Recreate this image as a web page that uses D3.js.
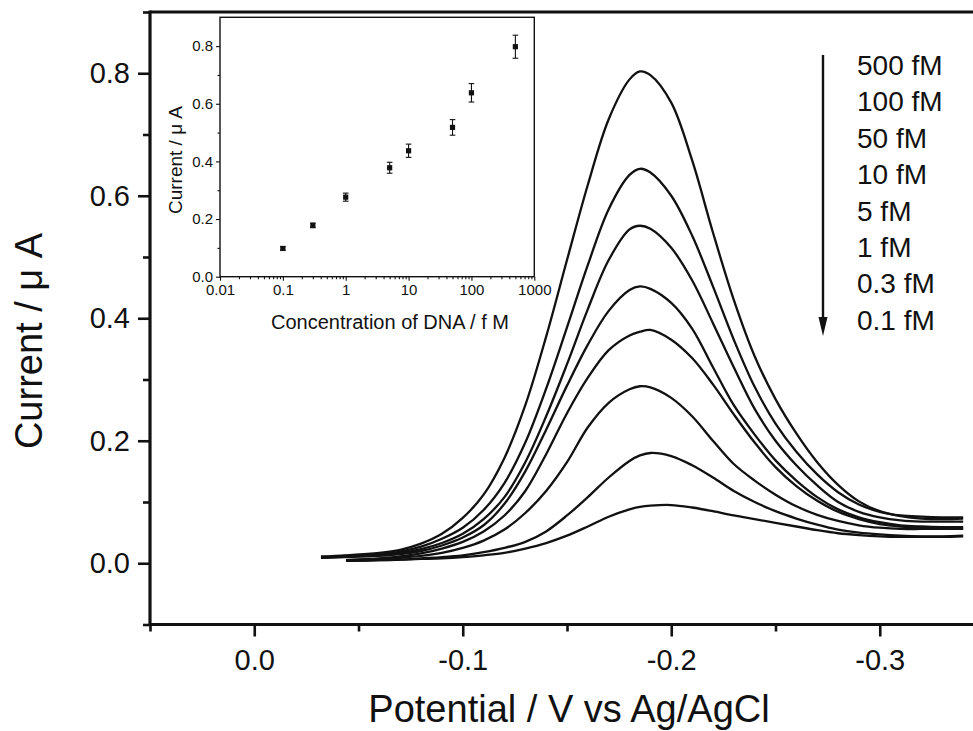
<!DOCTYPE html>
<html>
<head>
<meta charset="utf-8">
<script src="https://cdn.jsdelivr.net/npm/d3@7"></script>
<style>
  html, body { margin: 0; padding: 0; background: #fff; }
  svg { display: block; font-family: "Liberation Sans", Arial, Helvetica, sans-serif; }
</style>
</head>
<body>
<svg id="chart" width="973" height="731"></svg>
<script>
// ---------------- DATA ----------------
// Main chart: potential (V vs Ag/AgCl) grid and current (µA) for each concentration
const potential = [-0.032, -0.044, -0.06, -0.07, -0.08, -0.09, -0.10, -0.11, -0.12, -0.13, -0.14, -0.15, -0.16, -0.17, -0.18, -0.185, -0.19, -0.20, -0.21, -0.22, -0.23, -0.24, -0.25, -0.26, -0.27, -0.28, -0.29, -0.30, -0.31, -0.32, -0.33, -0.34];
const current500fM = [0.011, 0.013, 0.017, 0.022, 0.032, 0.048, 0.074, 0.112, 0.172, 0.258, 0.370, 0.495, 0.618, 0.725, 0.790, 0.803, 0.797, 0.752, 0.658, 0.540, 0.430, 0.338, 0.268, 0.212, 0.165, 0.128, 0.101, 0.085, 0.077, 0.073, 0.072, 0.073];
const current100fM = [0.010, 0.012, 0.015, 0.019, 0.027, 0.040, 0.058, 0.087, 0.131, 0.197, 0.285, 0.385, 0.487, 0.578, 0.634, 0.644, 0.638, 0.600, 0.535, 0.452, 0.365, 0.288, 0.228, 0.182, 0.145, 0.116, 0.096, 0.084, 0.078, 0.076, 0.075, 0.075];
const current50fM = [0.009, 0.011, 0.014, 0.017, 0.023, 0.033, 0.048, 0.072, 0.108, 0.165, 0.240, 0.325, 0.415, 0.495, 0.545, 0.551, 0.546, 0.515, 0.462, 0.392, 0.320, 0.252, 0.200, 0.160, 0.127, 0.100, 0.084, 0.075, 0.070, 0.068, 0.068, 0.068];
const current10fM = [0.009, 0.010, 0.012, 0.015, 0.020, 0.029, 0.042, 0.062, 0.097, 0.150, 0.218, 0.290, 0.357, 0.412, 0.446, 0.452, 0.448, 0.425, 0.383, 0.320, 0.258, 0.210, 0.168, 0.135, 0.108, 0.088, 0.075, 0.067, 0.062, 0.060, 0.059, 0.059];
const current5fM = [null, 0.005, 0.008, 0.011, 0.016, 0.024, 0.035, 0.052, 0.078, 0.118, 0.178, 0.245, 0.303, 0.348, 0.372, 0.378, 0.381, 0.365, 0.335, 0.292, 0.243, 0.197, 0.157, 0.126, 0.102, 0.084, 0.072, 0.064, 0.060, 0.058, 0.057, 0.057];
const current1fM = [null, 0.005, 0.007, 0.009, 0.012, 0.017, 0.025, 0.037, 0.055, 0.082, 0.118, 0.165, 0.222, 0.262, 0.284, 0.289, 0.287, 0.270, 0.240, 0.200, 0.162, 0.135, 0.112, 0.093, 0.079, 0.069, 0.062, 0.058, 0.056, 0.056, 0.056, 0.056];
const current03fM = [null, 0.004, 0.005, 0.006, 0.008, 0.010, 0.013, 0.018, 0.025, 0.035, 0.052, 0.078, 0.108, 0.140, 0.167, 0.176, 0.180, 0.175, 0.160, 0.140, 0.118, 0.100, 0.085, 0.073, 0.063, 0.055, 0.050, 0.047, 0.045, 0.044, 0.044, 0.045];
const current01fM = [null, 0.004, 0.005, 0.006, 0.007, 0.008, 0.010, 0.013, 0.017, 0.024, 0.033, 0.045, 0.060, 0.076, 0.088, 0.092, 0.094, 0.095, 0.091, 0.085, 0.078, 0.072, 0.066, 0.060, 0.054, 0.049, 0.046, 0.044, 0.043, 0.043, 0.043, 0.044];

const legendLabels = ["500 fM", "100 fM", "50 fM", "10 fM", "5 fM", "1 fM", "0.3 fM", "0.1 fM"];
const mainXTicks = [0.0, -0.1, -0.2, -0.3];
const mainXMinorTicks = [0.05, -0.05, -0.15, -0.25, -0.35];
const mainYTicks = [0.0, 0.2, 0.4, 0.6, 0.8];
const mainYMinorTicks = [-0.1, 0.1, 0.3, 0.5, 0.7, 0.9];

// Inset: calibration
const insetConc = [0.1, 0.3, 1, 5, 10, 50, 100, 500];
const insetCurrent = [0.098, 0.178, 0.276, 0.378, 0.437, 0.518, 0.638, 0.798];
const insetError = [0.006, 0.008, 0.014, 0.019, 0.023, 0.027, 0.032, 0.040];
const insetXTicks = [0.01, 0.1, 1, 10, 100, 1000];
const insetYTicks = [0.0, 0.2, 0.4, 0.6, 0.8];
const insetYMinorTicks = [0.1, 0.3, 0.5, 0.7];

// ---------------- DRAW ----------------
const svg = d3.select("#chart");
const ink = "#111";

const x = d3.scaleLinear().domain([0.05, -0.35]).range([150, 984]);
const y = d3.scaleLinear().domain([-0.1, 0.9]).range([624.5, 12]);

const series = [current500fM, current100fM, current50fM, current10fM, current5fM, current1fM, current03fM, current01fM];

const line = d3.line()
  .defined(d => d[1] != null)
  .x(d => x(d[0]))
  .y(d => y(d[1]))
  .curve(d3.curveCatmullRom.alpha(0.5));

svg.append("g").selectAll("path").data(series).join("path")
  .attr("d", s => line(potential.map((p, i) => [p, s[i]])))
  .attr("fill", "none").attr("stroke", ink).attr("stroke-width", 2.3)
  .attr("stroke-linejoin", "round");

// main axes
const gy = svg.append("g").attr("transform", `translate(${x(0.05)},0)`);
gy.call(d3.axisLeft(y).tickValues(mainYTicks).tickSize(12).tickPadding(8).tickFormat(d => d.toFixed(1)));
gy.append("g").call(d3.axisLeft(y).tickValues(mainYMinorTicks).tickSize(7).tickFormat(""));
gy.selectAll(".domain").remove();
gy.selectAll("line").attr("stroke", ink).attr("stroke-width", 2.6);
gy.selectAll("text").attr("font-size", 29).attr("fill", ink);

const gx = svg.append("g").attr("transform", `translate(0,${y(-0.1)})`);
gx.call(d3.axisBottom(x).tickValues(mainXTicks).tickSize(12).tickPadding(13).tickFormat(d => d === 0 ? "0.0" : d.toFixed(1)));
gx.append("g").call(d3.axisBottom(x).tickValues(mainXMinorTicks).tickSize(7).tickFormat(""));
gx.selectAll(".domain").remove();
gx.selectAll("line").attr("stroke", ink).attr("stroke-width", 2.6);
gx.selectAll("text").attr("font-size", 29).attr("fill", ink);

// frame lines (left, bottom, top)
const frame = svg.append("g").attr("stroke", ink).attr("stroke-width", 3.2).attr("fill", "none");
frame.append("line").attr("x1", x(0.05)).attr("x2", x(0.05)).attr("y1", y(0.9) - 1.6).attr("y2", y(-0.1) + 1.6);
frame.append("line").attr("x1", x(0.05)).attr("x2", x(-0.35)).attr("y1", y(-0.1)).attr("y2", y(-0.1));
frame.append("line").attr("x1", x(0.05)).attr("x2", x(-0.35)).attr("y1", y(0.9)).attr("y2", y(0.9));

// axis titles
svg.append("text").attr("x", 569).attr("y", 722).attr("text-anchor", "middle")
  .attr("font-size", 38).attr("fill", ink).text("Potential / V vs Ag/AgCl");
svg.append("text").attr("transform", "translate(42,341) rotate(-90)").attr("text-anchor", "middle")
  .attr("font-size", 38).attr("fill", ink).text("Current / μ A");

// legend: arrow and labels
const arrowX = 823;
svg.append("line").attr("x1", arrowX).attr("x2", arrowX).attr("y1", 55).attr("y2", 320)
  .attr("stroke", ink).attr("stroke-width", 2.4);
svg.append("path").attr("d", `M${arrowX - 4.5},317 L${arrowX + 4.5},317 L${arrowX},336 Z`).attr("fill", ink);
svg.append("g").selectAll("text").data(legendLabels).join("text")
  .attr("x", 857).attr("y", (d, i) => 75 + i * 36.4)
  .attr("font-size", 28).attr("fill", ink).text(d => d);

// ---------------- INSET ----------------
const ix = d3.scaleLog().domain([0.01, 1000]).range([220, 534.3]);
const iy = d3.scaleLinear().domain([0, 0.9]).range([276.7, 17.3]);
const inset = svg.append("g");
inset.append("rect").attr("x", 220).attr("y", 17.3).attr("width", 314.3).attr("height", 259.4)
  .attr("fill", "#fff").attr("stroke", ink).attr("stroke-width", 1.4);

const iyAxis = inset.append("g").attr("transform", "translate(220,0)");
iyAxis.call(d3.axisLeft(iy).tickValues(insetYTicks).tickSize(4).tickPadding(3).tickFormat(d => d.toFixed(1)));
iyAxis.append("g").call(d3.axisLeft(iy).tickValues(insetYMinorTicks).tickSize(2.5).tickFormat(""));
iyAxis.selectAll(".domain").remove();
iyAxis.selectAll("line").attr("stroke", ink).attr("stroke-width", 1.1);
iyAxis.selectAll("text").attr("font-size", 15).attr("fill", ink);

const minorLog = [];
for (let dec = 0.01; dec < 1000; dec *= 10) for (let k = 2; k <= 9; k++) minorLog.push(+(dec * k).toPrecision(3));
const ixAxis = inset.append("g").attr("transform", "translate(0,276.7)");
ixAxis.call(d3.axisBottom(ix).tickValues(insetXTicks).tickSize(4).tickPadding(4).tickFormat(d => String(d)));
ixAxis.append("g").call(d3.axisBottom(ix).tickValues(minorLog).tickSize(2.5).tickFormat(""));
ixAxis.selectAll(".domain").remove();
ixAxis.selectAll("line").attr("stroke", ink).attr("stroke-width", 1.1);
ixAxis.selectAll("text").attr("font-size", 15).attr("fill", ink);

// error bars
const eb = inset.append("g").attr("stroke", ink).attr("stroke-width", 1.1);
insetConc.forEach((c, i) => {
  const cx = ix(c), top = iy(insetCurrent[i] + insetError[i]), bot = iy(insetCurrent[i] - insetError[i]);
  eb.append("line").attr("x1", cx).attr("x2", cx).attr("y1", top).attr("y2", bot);
  eb.append("line").attr("x1", cx - 2.8).attr("x2", cx + 2.8).attr("y1", top).attr("y2", top);
  eb.append("line").attr("x1", cx - 2.8).attr("x2", cx + 2.8).attr("y1", bot).attr("y2", bot);
});
inset.append("g").selectAll("rect").data(insetConc).join("rect")
  .attr("x", d => ix(d) - 2.6).attr("y", (d, i) => iy(insetCurrent[i]) - 2.6)
  .attr("width", 5.2).attr("height", 5.2).attr("fill", ink);

inset.append("text").attr("x", 390).attr("y", 329).attr("text-anchor", "middle")
  .attr("font-size", 20).attr("fill", ink).text("Concentration of DNA / f M");
inset.append("text").attr("transform", "translate(182,160) rotate(-90)").attr("text-anchor", "middle")
  .attr("font-size", 19).attr("fill", ink).text("Current /  μ A");
</script>
</body>
</html>
